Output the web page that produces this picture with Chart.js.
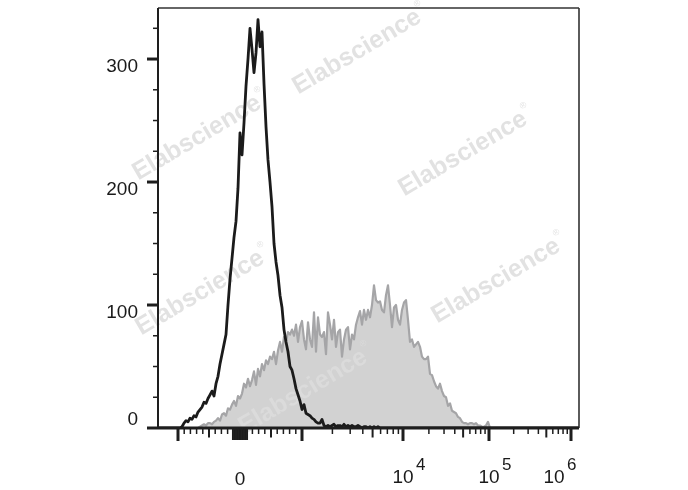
<!DOCTYPE html>
<html>
<head>
<meta charset="utf-8">
<script src="https://cdn.jsdelivr.net/npm/chart.js@4.4.1/dist/chart.umd.min.js"></script>
<style>
    html, body { margin: 0; padding: 0; background: #fff; }
    #wrap { width: 688px; height: 490px; }
</style>
</head>
<body>
<div id="wrap"><canvas id="flowHistogram" width="688" height="490"></canvas></div>
<script>
// histogram bins, in display channels (channel 0 = left edge of the plot)
const controlFirstChannel = 11;
const controlCounts = [0, 1, 4, 6, 5, 8, 7, 10, 9, 13, 15, 17, 21, 20, 24, 27, 30, 26, 36, 42,
    52, 60, 68, 76, 100, 121, 138, 155, 168, 195, 240, 222, 248, 278, 300, 325, 308, 289, 305, 332,
    310, 322, 280, 245, 218, 200, 180, 150, 135, 124, 108, 98, 80, 70, 62, 50, 47, 40, 32, 27,
    22, 15, 19, 12, 11, 10, 8, 7, 5, 4, 4, 7, 2, 1,
    2, 1, 2, 3, 1, 2, 2, 1, 3, 1, 2, 1, 2, 1, 1, 2, 1, 0, 1, 1, 0, 1, 0, 1, 0, 1, 0, 0];
const stainedFirstChannel = 20;
const stainedCounts = [0, 1, 2, 3, 2, 4, 4, 3, 5, 6, 8, 6, 11, 12, 10, 16, 15, 19, 22, 18,
    26, 24, 28, 36, 33, 40, 34, 39, 46, 35, 48, 42, 52, 47, 55, 52, 58, 56, 62, 52,
    63, 70, 62, 74, 70, 78, 76, 80, 75, 84, 70, 82, 87, 72, 64, 86, 72, 66, 94, 62,
    90, 76, 74, 78, 60, 94, 84, 72, 88, 66, 78, 80, 58, 72, 80, 82, 64, 76, 72, 84,
    90, 95, 84, 96, 88, 96, 90, 100, 116, 104, 102, 103, 96, 94, 108, 116, 100, 82, 98, 100,
    88, 84, 96, 102, 104, 88, 70, 72, 66, 68, 70, 66, 58, 56, 56, 58, 44, 43, 38, 34,
    32, 36, 30, 26, 25, 18, 20, 14, 13, 12, 9, 8, 5, 4, 4, 3, 4, 4, 3, 4,
    2, 2, 1, 1, 2, 5, 0];
const lastChannel = 210.5;
const countMax = 341.5;

// y axis
const yMajorTicks = [0, 100, 200, 300];
const yMinorTicks = [25, 50, 75, 125, 150, 175, 225, 250, 275, 325];
const yTickLabels = ['0', '100', '200', '300'];

// x axis (fluorescence units)
const xMajorTicks = [-1000, 1000, 1e4, 1e5, 1e6];
const xLabelValues = [0, 1e4, 1e5, 1e6];
const xLabelBase = ['0', '10', '10', '10'];
const xLabelExp = ['', '4', '5', '6'];

// biexponential display: linear around zero, then one log segment per decade
const linearCenter = 41, linearHalfWidth = 31;
const decadeChannels = [[1e3, 72], [1e4, 122.5], [1e5, 165.5], [1e6, 206.5]];

function toChannel(v) {
    if (Math.abs(v) <= 1000) return linearCenter + linearHalfWidth * v / 1000;
    for (let i = 0; i < decadeChannels.length - 1; i++) {
        const [a, ca] = decadeChannels[i], [b, cb] = decadeChannels[i + 1];
        if (v <= b) return ca + (cb - ca) * Math.log10(v / a);
    }
    return 206.5;
}

// minor / medium ticks
const xMediumTicks = [-500, 500];
const xMinorTicks = [];
const xClusterTicks = [0];
for (let k = 2; k <= 9; k++) {
    if (k != 5) { xMinorTicks.push(-k * 100); xMinorTicks.push(k * 100); }
}
for (let k = 1; k <= 12; k++) {
    xClusterTicks.push(-k * 10); xClusterTicks.push(k * 10);
}
[1e3, 1e4, 1e5].forEach(function (d) {
    for (let k = 2; k <= 9; k++) {
        if (k == 5) xMediumTicks.push(k * d);
        else xMinorTicks.push(k * d);
    }
});

const toPoints = function (first, counts) {
    const pts = [{ x: 0, y: 0 }];
    counts.forEach(function (c, i) { pts.push({ x: first + i, y: c }); });
    pts.push({ x: lastChannel, y: 0 });
    return pts;
};

const FONT = "'Liberation Sans', Arial, sans-serif";

// watermark placement (centre, in canvas pixels)
const watermarkSpots = [[357, 52], [197, 138], [463, 154], [496, 281], [200, 293], [303, 392]];

const drawWatermarks = function (ctx) {
    ctx.save();
    ctx.fillStyle = 'rgba(220,220,220,0.83)';
    watermarkSpots.forEach(function (p) {
        ctx.save();
        ctx.translate(p[0], p[1]);
        ctx.rotate(-30.5 * Math.PI / 180);
        ctx.font = 'bold 25px ' + FONT;
        ctx.textAlign = 'center';
        ctx.textBaseline = 'middle';
        ctx.fillText('Elabscience', 0, 0);
        const w = ctx.measureText('Elabscience').width;
        ctx.font = '9px ' + FONT;
        ctx.textAlign = 'left';
        ctx.fillText('®', w / 2 + 1, -11);
        ctx.restore();
    });
    ctx.restore();
};

const flowAxes = {
    id: 'flowAxes',
    afterDatasetDraw: function (chart, args) {
        // watermark sits over the filled histogram but under the control line
        if (args.index === 1) drawWatermarks(chart.ctx);
    },
    afterDraw: function (chart) {
        const ctx = chart.ctx, a = chart.chartArea;
        const xs = chart.scales.x, ys = chart.scales.y;
        const line = function (x1, y1, x2, y2) {
            ctx.beginPath(); ctx.moveTo(x1, y1); ctx.lineTo(x2, y2); ctx.stroke();
        };
        ctx.save();
        // frame
        ctx.strokeStyle = '#333'; ctx.lineWidth = 1.6;
        line(a.left, a.top, a.right, a.top);
        line(a.right, a.top, a.right, a.bottom);
        ctx.strokeStyle = '#1e1e1e'; ctx.lineWidth = 2;
        line(a.left, a.top, a.left, a.bottom);
        ctx.lineWidth = 3;
        line(a.left, a.bottom, a.right, a.bottom);

        // y ticks
        ctx.lineWidth = 3;
        yMajorTicks.forEach(function (v) { const y = ys.getPixelForValue(v); line(a.left - 11, y, a.left, y); });
        ctx.lineWidth = 1.5;
        yMinorTicks.forEach(function (v) { const y = ys.getPixelForValue(v); line(a.left - 5, y, a.left, y); });

        // x ticks
        const xTick = function (v, len) { const x = xs.getPixelForValue(toChannel(v)); line(x, a.bottom, x, a.bottom + len); };
        ctx.lineWidth = 3;
        xMajorTicks.forEach(function (v) { xTick(v, 13); });
        ctx.lineWidth = 2;
        xMediumTicks.forEach(function (v) { xTick(v, 9.5); });
        ctx.lineWidth = 1.5;
        xMinorTicks.forEach(function (v) { xTick(v, 6); });
        ctx.lineWidth = 1.2;
        xClusterTicks.forEach(function (v) { xTick(v, 12); });

        // y labels
        ctx.fillStyle = '#1a1a1a';
        ctx.font = '19px ' + FONT;
        ctx.textAlign = 'right';
        ctx.textBaseline = 'middle';
        yMajorTicks.forEach(function (v, i) {
            const y = ys.getPixelForValue(v) + (v === 0 ? -8 : 8);
            ctx.fillText(yTickLabels[i], a.left - 20, y);
        });

        // x labels, base + superscript exponent
        ctx.textBaseline = 'alphabetic';
        xLabelValues.forEach(function (v, i) {
            let x = xs.getPixelForValue(toChannel(v));
            if (v === 1e6) x -= 17;
            ctx.font = '19px ' + FONT;
            ctx.textAlign = 'center';
            const base = xLabelBase[i];
            ctx.fillText(base, x, xLabelExp[i] ? 483 : 484.5);
            if (xLabelExp[i]) {
                const w = ctx.measureText(base).width;
                ctx.font = '17px ' + FONT;
                ctx.textAlign = 'left';
                ctx.fillText(xLabelExp[i], x + w / 2 + 2.5, 470);
            }
        });
        ctx.restore();
    }
};

new Chart('flowHistogram', {
    type: 'line',
    data: {
        datasets: [{
            label: 'Control',
            data: toPoints(controlFirstChannel, controlCounts),
            borderColor: '#1b1b1b',
            borderWidth: 2.8,
            borderJoinStyle: 'round',
            pointRadius: 0,
            tension: 0,
            fill: false
        }, {
            label: 'Stained',
            data: toPoints(stainedFirstChannel, stainedCounts),
            borderColor: '#a5a5a7',
            backgroundColor: '#d2d2d2',
            borderWidth: 2.2,
            borderJoinStyle: 'round',
            pointRadius: 0,
            tension: 0,
            fill: 'origin'
        }]
    },
    options: {
        responsive: false,
        animation: false,
        layout: { padding: { left: 158, right: 109, top: 8, bottom: 62 } },
        plugins: { legend: { display: false }, tooltip: { enabled: false } },
        scales: {
            x: { type: 'linear', min: 0, max: lastChannel, display: false },
            y: { type: 'linear', min: 0, max: countMax, display: false }
        }
    },
    plugins: [flowAxes]
});
</script>
</body>
</html>
